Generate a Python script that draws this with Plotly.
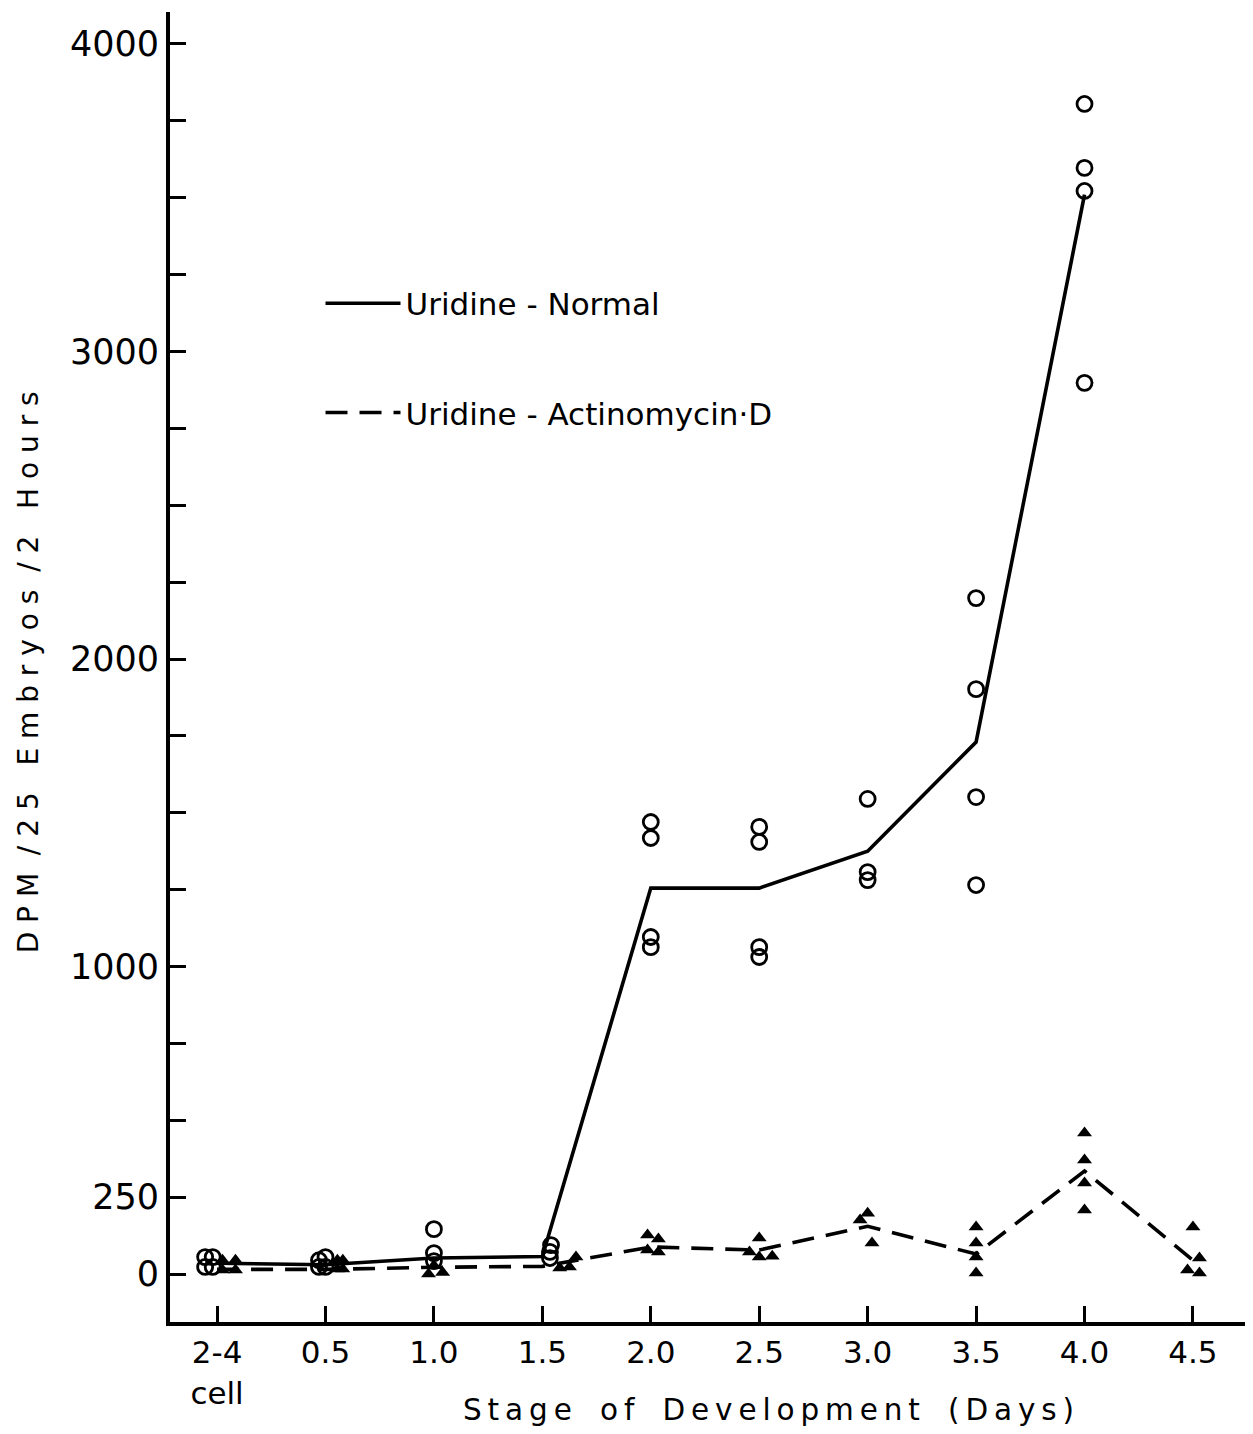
import plotly.graph_objects as go

# ---------------- data ----------------
stages = ["2-4<br>cell", "0.5", "1.0", "1.5", "2.0", "2.5", "3.0", "3.5", "4.0", "4.5"]

# Uridine - Normal: mean line (one value per stage, no value at 4.5)
normal_line = [35, 30, 52, 57, 1255, 1255, 1375, 1730, 3510]

# individual determinations (open circles): stage index, value, small horizontal jitter
normal_pt_stage = [0, 0, 0, 0, 1, 1, 1, 1, 2, 2, 2, 3, 3, 3,
                   4, 4, 4, 4, 5, 5, 5, 5, 6, 6, 6, 7, 7, 7, 7, 8, 8, 8, 8]
normal_pt_value = [55, 55, 23, 23, 45, 55, 23, 23, 146, 68, 42, 94, 72, 52,
                   1470, 1418, 1096, 1063, 1454, 1405, 1063, 1031, 1545, 1307, 1281,
                   2198, 1902, 1551, 1265, 3805, 3597, 3522, 2898]
normal_pt_jitter = [-0.11, -0.04, -0.11, -0.04, -0.06, 0.0, -0.06, 0.0, 0, 0, 0, 0.08, 0.07, 0.07,
                    0, 0, 0, 0, 0, 0, 0, 0, 0, 0, 0, 0, 0, 0, 0, 0, 0, 0, 0]

# Uridine - Actinomycin D: mean line
actino_line = [15, 15, 22, 25, 88, 78, 155, 65, 335, 45]

# individual determinations (filled triangles)
actino_pt_stage = [0, 0, 0, 0, 1, 1, 1, 1, 2, 2, 2, 3, 3, 3,
                   4, 4, 4, 4, 5, 5, 5, 5, 6, 6, 6, 7, 7, 7, 7, 8, 8, 8, 8, 9, 9, 9, 9]
actino_pt_value = [45, 45, 13, 13, 45, 45, 16, 16, 0, 5, 28, 20, 23, 55,
                   127, 114, 78, 72, 117, 72, 55, 58, 198, 176, 101,
                   153, 101, 55, 3, 459, 371, 296, 208, 153, 52, 13, 3]
actino_pt_jitter = [0.05, 0.17, 0.05, 0.17, 0.11, 0.16, 0.11, 0.16, -0.05, 0.08, 0.0, 0.16, 0.25, 0.31,
                    -0.03, 0.07, -0.03, 0.07, 0.0, -0.09, 0.0, 0.12, 0.0, -0.07, 0.04,
                    0, 0, 0, 0, 0, 0, 0, 0, 0, 0.06, -0.05, 0.06]

y_tick_values = [0, 250, 500, 750, 1000, 1250, 1500, 1750, 2000, 2250, 2500, 2750,
                 3000, 3250, 3500, 3750, 4000]
y_tick_labels = ["0", "250", "", "", "1000", "", "", "", "2000", "", "", "",
                 "3000", "", "", "", "4000"]

x_title = "S\u2009t\u2009a\u2009g\u2009e   o\u2009f   D\u2009e\u2009v\u2009e\u2009l\u2009o\u2009p\u2009m\u2009e\u2009n\u2009t   (\u2009D\u2009a\u2009y\u2009s\u2009)"
y_title = "D P M  / 2 5   E m b r y o s  / 2   H o u r s"

# ---------------- figure ----------------
FONT = "DejaVu Sans"
x_idx = list(range(len(stages)))

fig = go.Figure()

fig.add_trace(go.Scatter(
    x=x_idx[:len(normal_line)], y=normal_line, mode="lines",
    line=dict(color="black", width=3.6),
    name="Uridine - Normal", legendgroup="a"))

fig.add_trace(go.Scatter(
    x=x_idx[:len(actino_line)], y=actino_line, mode="lines",
    line=dict(color="black", width=3.6, dash="22px,12px"),
    name="Uridine - Actinomycin·D", legendgroup="b"))

fig.add_trace(go.Scatter(
    x=[s + j for s, j in zip(normal_pt_stage, normal_pt_jitter)], y=normal_pt_value,
    mode="markers", showlegend=False,
    marker=dict(symbol="circle-open", size=15, color="black", line=dict(width=2.8))))

fig.add_trace(go.Scatter(
    x=[s + j for s, j in zip(actino_pt_stage, actino_pt_jitter)], y=actino_pt_value,
    mode="markers", showlegend=False,
    marker=dict(symbol="triangle-up", size=13, color="black")))

fig.update_layout(
    width=1253, height=1434,
    margin=dict(l=162, r=16, t=4, b=120),
    paper_bgcolor="white", plot_bgcolor="white",
    font=dict(family=FONT, color="black"),
    showlegend=True,
    legend=dict(
        x=0.14, y=0.798, xanchor="left", yanchor="top",
        bgcolor="rgba(0,0,0,0)", borderwidth=0,
        font=dict(family=FONT, size=31, color="black"),
        itemwidth=75, traceorder="grouped", tracegroupgap=66,
    ),
    xaxis=dict(
        range=[-0.434, 9.48],
        tickmode="array", tickvals=x_idx, ticktext=stages,
        ticks="inside", ticklen=16, tickwidth=3, tickcolor="black",
        showline=True, linecolor="black", linewidth=4,
        showgrid=False, zeroline=False,
        tickfont=dict(family=FONT, size=31, color="black"),
    ),
    yaxis=dict(
        range=[-156, 4104],
        tickmode="array", tickvals=y_tick_values, ticktext=y_tick_labels,
        ticks="inside", ticklen=16, tickwidth=3, tickcolor="black",
        showline=True, linecolor="black", linewidth=4,
        showgrid=False, zeroline=False,
        tickfont=dict(family=FONT, size=35, color="black"),
    ),
)

fig.add_annotation(
    text=x_title,
    xref="paper", yref="paper", x=0.557, y=-0.067, xanchor="center", yanchor="middle",
    showarrow=False, font=dict(family=FONT, size=29.5, color="black"))

fig.add_annotation(
    text=y_title,
    xref="paper", yref="paper", x=-0.132, y=0.496, xanchor="center", yanchor="middle",
    textangle=-90, showarrow=False, font=dict(family=FONT, size=28, color="black"))

fig.write_html("out.html")
